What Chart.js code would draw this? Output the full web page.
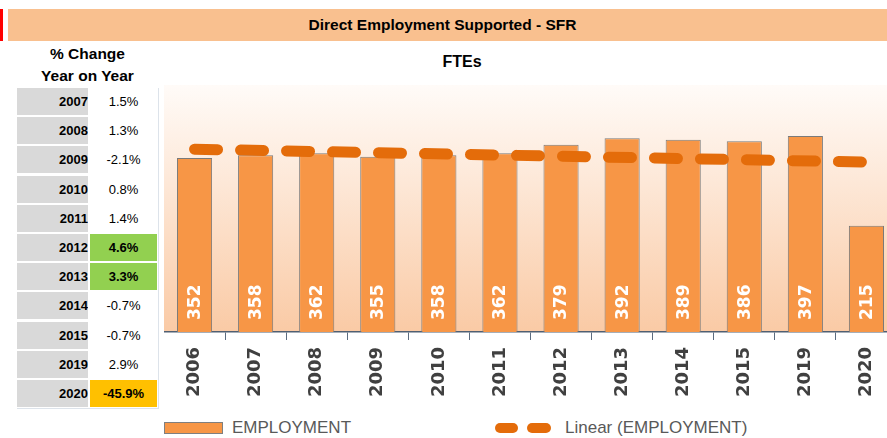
<!DOCTYPE html>
<html>
<head>
<meta charset="utf-8">
<script src="https://cdn.jsdelivr.net/npm/chart.js@4"></script>
<style>
  html, body { margin: 0; padding: 0; overflow: hidden; }
  body { width: 887px; height: 438px; position: relative; background: #fff; font-family: "Liberation Sans", Arial, sans-serif; }
  .abs { position: absolute; }
  #redMark { left: 0; top: 9; width: 3px; top: 9px; height: 32px; background: #ff0000; }
  #header { left: 8px; top: 9px; width: 879px; height: 32px; background: #f9c08f; }
  #header span { position: absolute; left: 0; width: 869px; text-align: center; top: 7px; font-weight: bold; font-size: 15.5px; color: #000; }
  .tblHead { left: 17px; width: 141px; text-align: center; font-weight: bold; font-size: 15.5px; color: #000; }
  .row { left: 17px; width: 141px; height: 27px; }
  .row .yr { position: absolute; left: 0; top: 0; width: 71px; height: 27px; background: #d9d9d9; text-align: right; font-weight: bold; font-size: 13px; line-height: 27px; overflow: hidden; }
  .row .val { position: absolute; left: 73px; top: 0; width: 67px; height: 27px; text-align: center; font-size: 13px; line-height: 27px; }
  #vline { left: 158px; top: 88px; width: 1px; height: 321px; background: #dde3ea; }
  #hline { left: 17px; top: 408px; width: 141px; height: 1px; background: #dde3ea; }
  #ftes { left: 412px; width: 100px; top: 53px; text-align: center; font-weight: bold; font-size: 16px; }
  #chartBox { left: 164px; top: 85px; width: 733px; height: 317px; }
  .legTxt { top: 418px; font-size: 17px; color: #595959; }
</style>
</head>
<body>
<div id="redMark" class="abs"></div>
<div id="header" class="abs"><span>Direct Employment Supported - SFR</span></div>
<div class="abs tblHead" style="top:45px">% Change</div>
<div class="abs tblHead" style="top:67px">Year on Year</div>
<div id="rows"></div>
<div id="vline" class="abs"></div>
<div id="hline" class="abs"></div>
<div id="ftes" class="abs">FTEs</div>
<div id="chartBox" class="abs"><canvas id="chart"></canvas></div>

<div class="abs" style="left:164px; top:422px; width:57px; height:10px; background:#f79646; border:1px solid #7f7f7f;"></div>
<div class="abs legTxt" style="left:232px;">EMPLOYMENT</div>
<div class="abs" style="left:495px; top:423px; width:23px; height:10px; border-radius:5px; background:#e46c0a;"></div>
<div class="abs" style="left:527px; top:423px; width:24px; height:10px; border-radius:5px; background:#e46c0a;"></div>
<div class="abs legTxt" style="left:565px;">Linear (EMPLOYMENT)</div>

<script>
// FTEs per year
const years = ["2006", "2007", "2008", "2009", "2010", "2011", "2012", "2013", "2014", "2015", "2019", "2020"];
const employment = [352, 358, 362, 355, 358, 362, 379, 392, 389, 386, 397, 215];
// linear trend, read at the first and last year
const trend = [370, null, null, null, null, null, null, null, null, null, null, 344];

// % change year on year table
const changeYears = ["2007", "2008", "2009", "2010", "2011", "2012", "2013", "2014", "2015", "2019", "2020"];
const changeValues = [1.5, 1.3, -2.1, 0.8, 1.4, 4.6, 3.3, -0.7, -0.7, 2.9, -45.9];

const rowsEl = document.getElementById("rows");
changeYears.forEach((yr, i) => {
  const v = changeValues[i];
  const row = document.createElement("div");
  row.className = "abs row";
  row.style.top = (88 + i * 29.2) + "px";
  let bg = "transparent", bold = false;
  if (v > 3) { bg = "#92d050"; bold = true; }
  if (v < -10) { bg = "#ffc000"; bold = true; }
  row.innerHTML = `<div class="yr">${yr}</div>
    <div class="val" style="background:${bg};font-weight:${bold ? "bold" : "normal"}">${v.toFixed(1)}%</div>`;
  rowsEl.appendChild(row);
});

const plotBackground = {
  id: "plotBackground",
  beforeDraw(chart) {
    const { ctx, chartArea } = chart;
    const g = ctx.createLinearGradient(0, chartArea.top, 0, chartArea.bottom);
    g.addColorStop(0, "#fffbf8");
    g.addColorStop(1, "#facaa5");
    ctx.save();
    ctx.fillStyle = g;
    ctx.fillRect(chartArea.left, chartArea.top, chartArea.right - chartArea.left, chartArea.bottom - chartArea.top);
    ctx.restore();
  },
};

const barLabels = {
  id: "barLabels",
  afterDatasetsDraw(chart) {
    const { ctx, chartArea } = chart;
    const meta = chart.getDatasetMeta(0);
    ctx.save();
    ctx.fillStyle = "#ffffff";
    ctx.font = 'bold 17px "DejaVu Sans"';
    ctx.textAlign = "left";
    ctx.textBaseline = "middle";
    meta.data.forEach((bar, i) => {
      ctx.save();
      ctx.translate(bar.x, chartArea.bottom - 12);
      ctx.rotate(-Math.PI / 2);
      ctx.fillText(String(employment[i]), 0, 1);
      ctx.restore();
    });
    ctx.restore();
  },
};

new Chart(document.getElementById("chart"), {
  data: {
    labels: years,
    datasets: [
      {
        type: "bar",
        label: "EMPLOYMENT",
        data: employment,
        backgroundColor: "#f79646",
        borderColor: "#7a7a7a",
        borderWidth: 1,
        barPercentage: 0.575,
        categoryPercentage: 1,
        order: 2,
      },
      {
        type: "line",
        label: "Linear (EMPLOYMENT)",
        data: trend,
        spanGaps: true,
        borderColor: "#e46c0a",
        borderWidth: 11,
        borderDash: [23, 23],
        borderCapStyle: "round",
        pointRadius: 0,
        fill: false,
        order: 1,
      },
    ],
  },
  options: {
    responsive: true,
    maintainAspectRatio: false,
    animation: false,
    layout: { padding: 0 },
    plugins: { legend: { display: false }, tooltip: { enabled: false } },
    scales: {
      x: {
        grid: { drawOnChartArea: false, drawTicks: true, tickLength: 8, color: "#5b6b7f", offset: true },
        border: { color: "#4f5f72", width: 1.5 },
        ticks: {
          minRotation: 90,
          maxRotation: 90,
          padding: 7,
          color: "#404040",
          font: { family: "DejaVu Sans", weight: "bold", size: 18 },
        },
        afterFit(scale) { scale.height = 70; },
      },
      y: { display: false, min: 0, max: 500 },
    },
  },
  plugins: [plotBackground, barLabels],
});
</script>
</body>
</html>
